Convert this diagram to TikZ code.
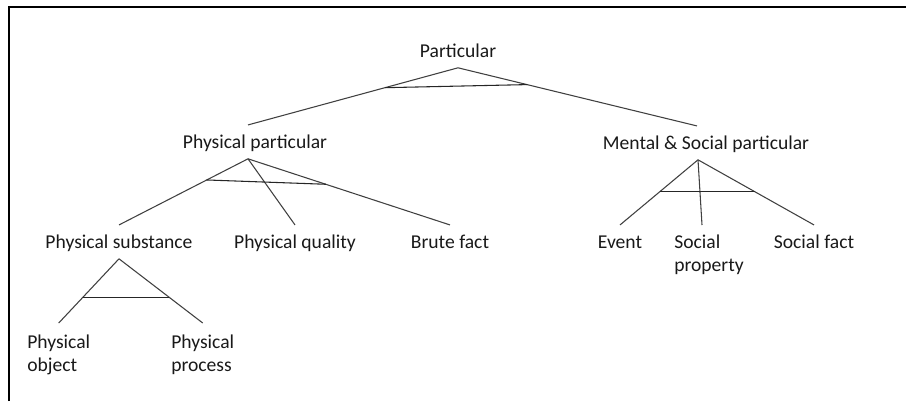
\documentclass[tikz,border=0pt]{standalone}
\usepackage{fontspec}
\setmainfont{Carlito}
\usepackage{tikz}
\usetikzlibrary{calc}
\definecolor{linegray}{gray}{0.25}
\definecolor{textgray}{gray}{0.1}
\tikzset{
    term/.style={inner xsep=0pt, inner ysep=7.9pt, text height=9.2pt, text depth=0pt, anchor=base, font=\fontsize{14.7}{17.6}\selectfont, text=textgray},
    termtwo/.style={inner xsep=0pt, inner ysep=8.5pt, align=left, anchor=north west, font=\fontsize{14.7}{17.6}\selectfont, text=textgray},
    branch/.style={draw=linegray, line width=0.8pt},
    crossbar/.style={draw=black!85, line width=0.8pt},
    frameline/.style={draw=black, line width=1.3pt}
}

\begin{document}
\begin{tikzpicture}[x=0.75pt, y=-0.75pt]
    \useasboundingbox (0,0) rectangle (906,401);
    \draw[frameline] (9,401) -- (9,7) -- (906,7);

    \node[term] (part) at (458,57) {Particular};
    \node[term] (phys) at (255,148) {Physical particular};
    \node[term] (ment) at (706,149) {Mental \& Social particular};

    \node[term] (subst) at (119,248) {Physical substance};
    \node[term] (qual) at (295,248) {Physical quality};
    \node[term] (brute) at (450,248) {Brute fact};
    \node[term] (event) at (620,248) {Event};
    \node[termtwo] (sprop) at (674,223) {Social\\property};
    \node[term] (sfact) at (814,248) {Social fact};

    \node[termtwo] (pobj) at (27,323) {Physical\\object};
    \node[termtwo] (pproc) at (171,323) {Physical\\process};

    % apex and top points that sit off the text centre
    \coordinate (physA) at ($(phys.south)+(-7,0)$);
    \coordinate (physT) at ($(phys.north)+(-7,0)$);
    \coordinate (mentA) at ($(ment.south)+(-8,0)$);
    \coordinate (mentT) at ($(ment.north)+(-9,0)$);
    \coordinate (spropT) at ($(sprop.north)+(-7,2)$);

    \draw[branch] (part.south) -- coordinate[pos=0.348] (partL) (physT);
    \draw[branch] (part.south) -- coordinate[pos=0.289] (partR) (mentT);
    \draw[crossbar] (partL) -- (partR);

    \draw[branch] (physA) -- coordinate[pos=0.32] (physL) (subst.north);
    \draw[branch] (physA) -- (qual.north);
    \draw[branch] (physA) -- coordinate[pos=0.385] (physR) (brute.north);
    \draw[crossbar] (physL) -- (physR);

    \draw[branch] (mentA) -- coordinate[pos=0.49] (mentL) (event.north);
    \draw[branch] (mentA) -- (spropT);
    \draw[branch] (mentA) -- coordinate[pos=0.49] (mentR) (sfact.north);
    \draw[crossbar] (mentL) -- (mentR);

    \draw[branch] (subst.south) -- coordinate[pos=0.6] (substL) (pobj.north);
    \draw[branch] (subst.south) -- coordinate[pos=0.6] (substR) (pproc.north);
    \draw[crossbar] (substL) -- (substR);
\end{tikzpicture}
\end{document}
